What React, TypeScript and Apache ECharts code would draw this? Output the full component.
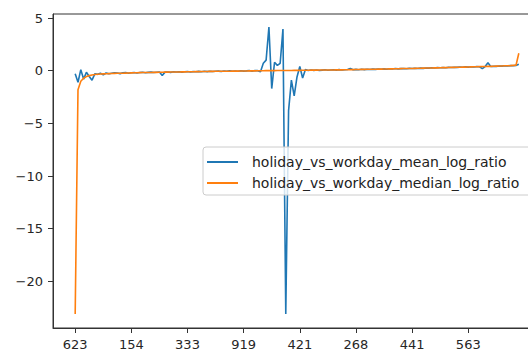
import React, { useEffect, useRef } from "react";
import * as echarts from "echarts";

const tickLabels = ["623", "154", "333", "919", "421", "268", "441", "563"];
const tickPositions = [0, 20, 40, 60, 80, 100, 120, 140];
const yTicks = [-20, -15, -10, -5, 0, 5];
const seriesNames = [
  "holiday_vs_workday_mean_log_ratio",
  "holiday_vs_workday_median_log_ratio",
];

const meanValues = [
  -0.3, -1.1, 0.1, -0.8, -0.15, -0.55, -0.9, -0.3, -0.35, -0.25,
  -0.4, -0.22, -0.3, -0.25, -0.2, -0.22, -0.28, -0.2, -0.18, -0.25,
  -0.2, -0.17, -0.22, -0.18, -0.15, -0.2, -0.16, -0.14, -0.18, -0.15,
  -0.13, -0.45, -0.14, -0.12, -0.16, -0.1, -0.13, -0.11, -0.14, -0.1,
  -0.08, -0.12, -0.09, -0.1, -0.07, -0.11, -0.06, -0.09, -0.05, -0.08,
  -0.06, -0.04, -0.08, -0.03, -0.06, -0.02, -0.05, -0.03, -0.06, -0.01,
  -0.04, -0.02, 0.02, -0.05, 0.01, 0.0, -0.1, 0.7, 1.0, 4.15,
  -1.7, 0.8, 0.5, 0.7, 3.95, -23.1, -3.8, -0.9, -2.4, -0.6,
  0.4, -0.7, 0.1, 0.02, 0.06, 0.03, 0.07, 0.02, 0.05, 0.08,
  0.04, 0.07, 0.09, 0.05, 0.1, 0.06, 0.09, 0.11, 0.2, 0.08,
  0.12, 0.09, 0.13, 0.1, 0.14, 0.11, 0.15, 0.12, 0.16, 0.14,
  0.17, 0.13, 0.18, 0.16, 0.2, 0.17, 0.19, 0.21, 0.18, 0.22,
  0.2, 0.23, 0.21, 0.24, 0.22, 0.26, 0.24, 0.27, 0.25, 0.29,
  0.27, 0.3, 0.28, 0.31, 0.3, 0.33, 0.31, 0.34, 0.32, 0.36,
  0.34, 0.37, 0.35, 0.38, 0.37, 0.2, 0.39, 0.75, 0.4, 0.42,
  0.41, 0.44, 0.43, 0.46, 0.45, 0.48, 0.47, 0.5, 0.6,
];

const medianValues = [
  -23.1, -1.8, -1.0, -0.72, -0.56, -0.47, -0.41, -0.37, -0.34, -0.32,
  -0.3, -0.29, -0.28, -0.27, -0.26, -0.25, -0.25, -0.24, -0.23, -0.22,
  -0.21, -0.2, -0.2, -0.19, -0.18, -0.18, -0.17, -0.17, -0.16, -0.16,
  -0.15, -0.15, -0.14, -0.14, -0.13, -0.13, -0.12, -0.12, -0.11, -0.11,
  -0.1, -0.1, -0.1, -0.09, -0.09, -0.08, -0.08, -0.08, -0.07, -0.07,
  -0.06, -0.06, -0.06, -0.05, -0.05, -0.05, -0.04, -0.04, -0.04, -0.03,
  -0.03, -0.03, -0.02, -0.02, -0.02, -0.01, -0.01, -0.01, 0.0, 0.0,
  0.0, 0.0, 0.01, 0.01, 0.01, 0.02, 0.02, 0.02, 0.03, 0.03,
  0.03, 0.04, 0.04, 0.04, 0.05, 0.05, 0.05, 0.06, 0.06, 0.06,
  0.07, 0.07, 0.07, 0.08, 0.08, 0.08, 0.09, 0.09, 0.1, 0.1,
  0.11, 0.11, 0.12, 0.12, 0.13, 0.13, 0.14, 0.14, 0.15, 0.15,
  0.16, 0.16, 0.17, 0.17, 0.18, 0.18, 0.19, 0.2, 0.2, 0.21,
  0.21, 0.22, 0.23, 0.23, 0.24, 0.25, 0.25, 0.26, 0.27, 0.27,
  0.28, 0.29, 0.29, 0.3, 0.31, 0.31, 0.32, 0.33, 0.34, 0.34,
  0.35, 0.36, 0.37, 0.37, 0.38, 0.39, 0.4, 0.41, 0.41, 0.42,
  0.43, 0.44, 0.45, 0.46, 0.47, 0.48, 0.5, 0.52, 1.65,
];

const FONT = "DejaVu Sans";
const fmt = (v: number) => (v < 0 ? "\u2212" + Math.abs(v) : String(v));

export default function App() {
  const ref = useRef<HTMLDivElement>(null);
  useEffect(() => {
    if (!ref.current) return;
    const chart = echarts.init(ref.current, null, { renderer: "svg" });
    const toPairs = (arr: number[]) => arr.map((v, i) => [i, v]);
    chart.setOption({
      animation: false,
      backgroundColor: "#ffffff",
      grid: {
        left: 53,
        top: 14,
        right: 4,
        bottom: 21,
        show: true,
        borderColor: "#333333",
        borderWidth: 1,
        backgroundColor: "transparent",
      },
      legend: {
        orient: "vertical",
        left: 203,
        top: 147,
        data: seriesNames.map((n) => ({ name: n, icon: "rect" })),
        itemWidth: 31,
        itemHeight: 2,
        itemGap: 7,
        padding: [8, 20, 5, 4],
        backgroundColor: "rgba(255,255,255,0.8)",
        borderColor: "#cccccc",
        borderWidth: 1,
        borderRadius: 3,
        textStyle: {
          fontFamily: FONT,
          fontSize: 14,
          lineHeight: 14,
          color: "#222222",
          padding: [0, 0, 0, 9],
        },
      },
      xAxis: {
        type: "value",
        min: -7.9,
        max: 165.9,
        splitLine: { show: false },
        axisLine: { show: true, onZero: false, lineStyle: { color: "#333333", width: 1 } },
        axisTick: {
          show: true,
          length: 5,
          customValues: tickPositions,
          lineStyle: { color: "#333333" },
        },
        axisLabel: {
          customValues: tickPositions,
          formatter: (v: number) => tickLabels[Math.round(v / 20)] ?? "",
          fontFamily: FONT,
          fontSize: 13,
          color: "#262626",
          margin: 10,
        },
      },
      yAxis: {
        type: "value",
        min: -24.43,
        max: 5.38,
        splitLine: { show: false },
        axisLine: { show: true, onZero: false, lineStyle: { color: "#333333", width: 1 } },
        axisTick: {
          show: true,
          length: 5,
          customValues: yTicks,
          lineStyle: { color: "#333333" },
        },
        axisLabel: {
          customValues: yTicks,
          formatter: fmt,
          fontFamily: FONT,
          fontSize: 13,
          color: "#262626",
          margin: 10,
        },
      },
      series: [
        {
          name: seriesNames[0],
          type: "line",
          data: toPairs(meanValues),
          symbol: "none",
          color: "#1f77b4",
          lineStyle: { width: 1.6, color: "#1f77b4" },
          z: 2,
        },
        {
          name: seriesNames[1],
          type: "line",
          data: toPairs(medianValues),
          symbol: "none",
          color: "#ff7f0e",
          lineStyle: { width: 1.6, color: "#ff7f0e" },
          z: 3,
        },
      ],
    });
    return () => chart.dispose();
  }, []);
  return (
    <div
      ref={ref}
      style={{ position: "fixed", left: 0, top: 0, width: 545, height: 351, background: "#fff" }}
    />
  );
}
